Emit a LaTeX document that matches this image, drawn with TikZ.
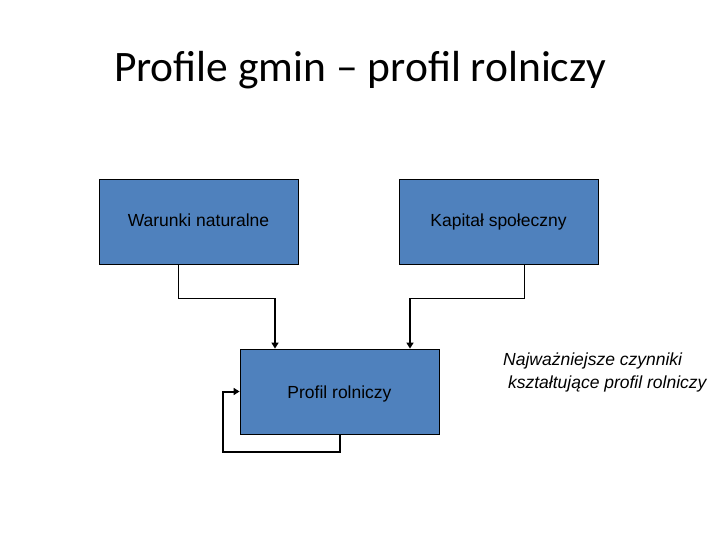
\documentclass[tikz,border=0pt]{standalone}
\usepackage{fontspec}
\setmainfont{Liberation Sans}
\newfontfamily\titlefont{Carlito}
\usetikzlibrary{arrows.meta}
\definecolor{boxblue}{HTML}{4F81BD}
\tikzset{
  blk/.style={draw=black, line width=0.8pt, fill=boxblue, minimum width=199pt, minimum height=85pt, inner sep=0pt, text height=13pt, text depth=4pt, font=\fontsize{17.5}{20}\selectfont},
  thin/.style={draw=black, line width=0.7pt},
  thick/.style={draw=black, line width=2pt},
  arr/.style={thick, -{Triangle[length=6pt,width=7pt]}}
}
\begin{document}
\begin{tikzpicture}[x=1pt,y=-1pt]
\useasboundingbox (0,0) rectangle (720,540);
\node[font=\titlefont\fontsize{43.5}{50}\selectfont] (title) at (360,70) {Profile gmin – profil rolniczy};
\node[blk] (wn) at (198.5,221.5) {Warunki naturalne};
\node[blk] (ks) at (498.5,221.5) {Kapitał społeczny};
\node[blk, text height=17pt, text depth=4pt] (pr) at (339.5,391.5) {Profil rolniczy};
\node[anchor=north west, align=left, inner sep=0pt, font=\itshape\fontsize{17.5}{23}\selectfont] (note) at (503,353) {Najważniejsze czynniki\\\ kształtujące profil rolniczy};
% connector 1
\coordinate (a1) at (178,298);
\coordinate (a2) at (275,298);
\draw[thin] (wn.south -| a1) -- (a1) -- (a2);
\draw[arr] (a2) -- (a2 |- pr.north);
% connector 2
\coordinate (b1) at (524,298);
\coordinate (b2) at (410,298);
\draw[thin] (ks.south -| b1) -- (b1) -- (b2);
\draw[arr] (b2) -- (b2 |- pr.north);
% self loop
\coordinate (c1) at (340,452);
\coordinate (c2) at (223,452);
\draw[arr] (pr.south -| c1) -- (c1) -- (c2) -- (c2 |- pr.west) -- (pr.west);
\end{tikzpicture}
\end{document}
